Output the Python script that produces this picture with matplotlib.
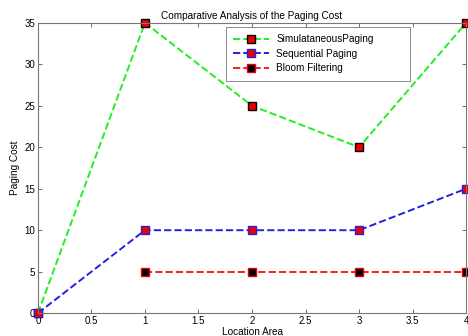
import matplotlib
matplotlib.use("Agg")
import matplotlib.pyplot as plt

plt.rcParams['font.family'] = ['Liberation Sans', 'DejaVu Sans']

# data
x_all = [0, 1, 2, 3, 4]
simultaneous = [0, 35, 25, 20, 35]
sequential = [0, 10, 10, 10, 15]
x_bloom = [1, 2, 3, 4]
bloom = [5, 5, 5, 5]

fig = plt.figure(figsize=(4.68, 3.36), dpi=100)
ax = fig.add_axes([0.081, 0.068, 0.915, 0.864])

ax.plot(x_all, simultaneous, '--s', color='#22ee22', lw=1.4, ms=6,
        mfc='#ee0000', mec='black', mew=1, label='SimulataneousPaging', clip_on=False)
ax.plot(x_all, sequential, '--s', color='#2222dd', lw=1.4, ms=6,
        mfc='#ee0000', mec='#2222dd', mew=1, label='Sequential Paging', clip_on=False)
ax.plot(x_bloom, bloom, '--s', color='#ee2222', lw=1.4, ms=6,
        mfc='black', mec='#ee0000', mew=1, label='Bloom Filtering', clip_on=False)

ax.set_xlim(0, 4)
ax.set_ylim(0, 35)
ax.set_xticks([0, 0.5, 1, 1.5, 2, 2.5, 3, 3.5, 4])
ax.set_xticklabels(['0', '0.5', '1', '1.5', '2', '2.5', '3', '3.5', '4'])
ax.set_yticks(range(0, 36, 5))
ax.tick_params(direction='in', top=True, right=True, labelsize=7,
               length=3, width=0.6, color='#555555', pad=2)
for s in ax.spines.values():
    s.set_color('#777777')
    s.set_linewidth(0.8)

ax.set_title('Comparative Analysis of the Paging Cost', fontsize=7.2, pad=3)
ax.set_xlabel('Location Area', fontsize=7.2, labelpad=1)
ax.set_ylabel('Paging Cost', fontsize=7.2, labelpad=3)

# MATLAB-like legend box with wide right padding
leg = ax.legend(loc='upper left', bbox_to_anchor=(0.439, 0.80, 0.430, 0.186),
                mode='expand', fontsize=7.2,
                frameon=True, fancybox=False, edgecolor='#555555',
                handlelength=3.6, handletextpad=0.7, borderpad=0.75,
                labelspacing=0.45, borderaxespad=0)
leg.get_frame().set_linewidth(0.6)

fig.savefig('out.png', dpi=100)
